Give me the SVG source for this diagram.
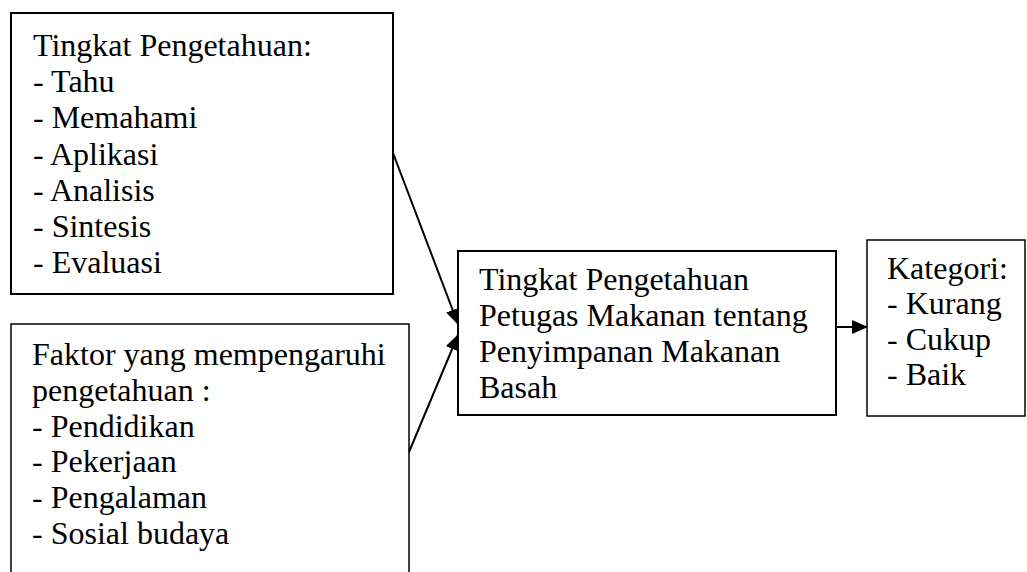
<svg xmlns="http://www.w3.org/2000/svg" width="1027" height="572" viewBox="0 0 1027 572">
<style>
text{font-family:"Liberation Serif","Times New Roman","DejaVu Serif",serif;font-size:32px;fill:#000}
.box{fill:#fff;stroke:#000}
.thick{stroke-width:2}
.thin{stroke-width:1.5}
.conn{stroke:#000;stroke-width:2;fill:none}
</style>
<defs>
<marker id="ah" viewBox="0 0 16 14" refX="15" refY="7" markerWidth="16" markerHeight="14" markerUnits="userSpaceOnUse" orient="auto">
<path d="M0,0 L16,7 L0,14 Z" fill="#000"/>
</marker>
</defs>
<rect width="1027" height="572" fill="#fff"/>
<g id="node-tingkat">
<rect class="box thick" x="11" y="13" width="382" height="281"/>
<text x="33" y="56">Tingkat Pengetahuan:</text>
<text x="33" y="92">- Tahu</text>
<text x="33" y="128">- Memahami</text>
<text x="33" y="165">- Aplikasi</text>
<text x="33" y="201">- Analisis</text>
<text x="33" y="237">- Sintesis</text>
<text x="33" y="273">- Evaluasi</text>
</g>
<g id="node-faktor">
<rect class="box thin" x="11" y="324" width="398" height="260"/>
<text x="32" y="365">Faktor yang mempengaruhi</text>
<text x="32" y="401">pengetahuan :</text>
<text x="32" y="437">- Pendidikan</text>
<text x="32" y="472">- Pekerjaan</text>
<text x="32" y="508">- Pengalaman</text>
<text x="32" y="544">- Sosial budaya</text>
</g>
<g id="node-center">
<rect class="box thick" x="458" y="251" width="378" height="164"/>
<text x="479" y="290">Tingkat Pengetahuan</text>
<text x="479" y="326">Petugas Makanan tentang</text>
<text x="479" y="362">Penyimpanan Makanan</text>
<text x="479" y="398">Basah</text>
</g>
<g id="node-kategori">
<rect class="box thin" x="867" y="240" width="158" height="176"/>
<text x="887" y="279">Kategori:</text>
<text x="887" y="314">- Kurang</text>
<text x="887" y="350">- Cukup</text>
<text x="887" y="385">- Baik</text>
</g>
<g id="connectors">
<line class="conn" x1="393" y1="153" x2="458" y2="324" marker-end="url(#ah)"/>
<line class="conn" x1="409" y1="452" x2="458" y2="335" marker-end="url(#ah)"/>
<line class="conn" x1="836" y1="327" x2="867" y2="327" marker-end="url(#ah)"/>
</g>
</svg>
